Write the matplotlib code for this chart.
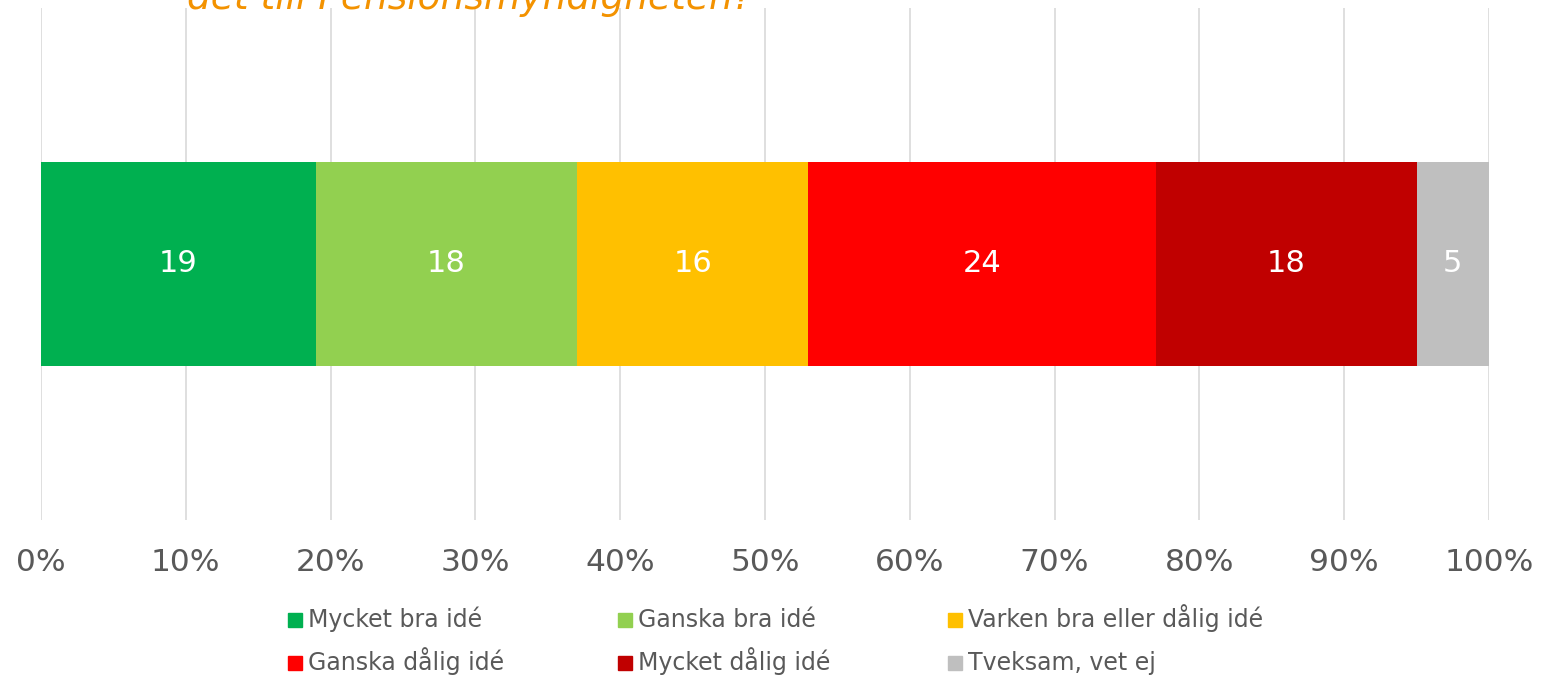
import matplotlib.pyplot as plt
from matplotlib.patches import Rectangle

# Data
categories = ["Mycket bra idé", "Ganska bra idé", "Varken bra eller dålig idé",
              "Ganska dålig idé", "Mycket dålig idé", "Tveksam, vet ej"]
values = [19, 18, 16, 24, 18, 5]
colors = ["#00B050", "#92D050", "#FFC000", "#FF0000", "#C00000", "#BFBFBF"]
ticks = [0, 10, 20, 30, 40, 50, 60, 70, 80, 90, 100]
title = "Vad tycker du om att flytta premiepensionen och\ndet till Pensionsmyndigheten?"

plt.rcParams["font.family"] = "DejaVu Sans"

W, H = 1541, 676
fig = plt.figure(figsize=(W / 100, H / 100), dpi=100)
ax = fig.add_axes([41 / W, 1 - 520 / H, 1448 / W, 512 / H])

total = sum(values)
left = 0
for cat, v, c in zip(categories, values, colors):
    w = v / total * 100
    ax.barh(0, w, left=left, height=0.4, color=c, label=cat, zorder=3)
    ax.text(left + w / 2, 0, str(v), ha="center", va="center",
            color="white", fontsize=22, zorder=4)
    left += w

ax.set_xlim(0, 100)
ax.set_ylim(-0.5, 0.5)
ax.set_xticks(ticks)
ax.set_xticklabels([f"{t}%" for t in ticks], fontsize=22.5, color="#595959")
ax.set_yticks([])
ax.tick_params(axis="x", length=0, pad=20)
ax.grid(axis="x", color="#D9D9D9", linewidth=1.2, zorder=0)
for s in ax.spines.values():
    s.set_visible(False)

# title is partly outside the picture, like the reference
fig.text(187 / W, 1 - 9 / H, title.split("\n")[1], fontsize=27,
         style="italic", color="#F39200", ha="left", va="baseline")

# legend drawn by hand: 3 columns x 2 rows with a shared baseline per row
col_x = [288, 618, 948]
row_base = [627, 670]
sq = 14
for i, (cat, c) in enumerate(zip(categories, colors)):
    x = col_x[i % 3]
    yb = row_base[i // 3]
    fig.patches.append(Rectangle((x / W, 1 - yb / H), sq / W, sq / H,
                                 transform=fig.transFigure, color=c))
    fig.text((x + sq + 6) / W, 1 - yb / H, cat, fontsize=17,
             color="#595959", ha="left", va="baseline")

plt.savefig("out.png", dpi=100)
